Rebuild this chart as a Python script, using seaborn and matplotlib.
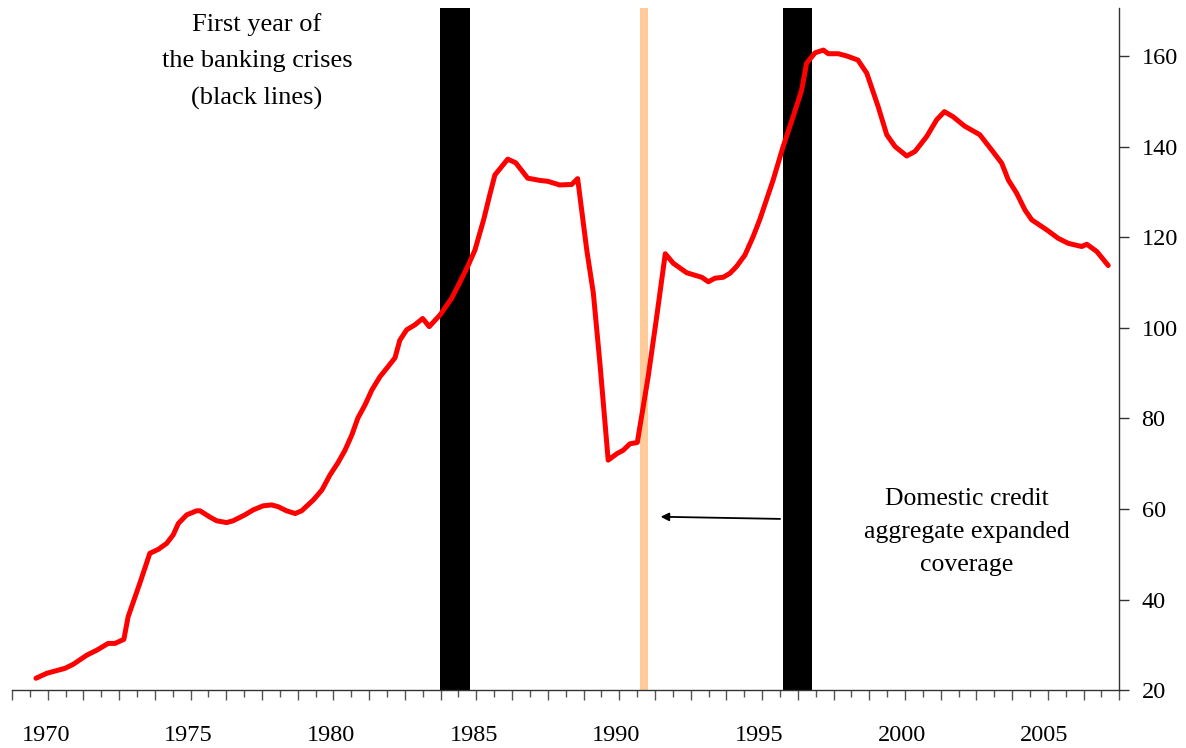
import numpy as np
import pandas as pd
import seaborn as sns
import matplotlib.pyplot as plt

# domestic credit aggregate (index), x in decimal years
year = [1969.66, 1970.04, 1970.68, 1970.97, 1971.44, 1971.79, 1972.19, 1972.43, 1972.74, 1972.89,
        1973.30, 1973.65, 1973.95, 1974.24, 1974.47, 1974.65, 1974.94, 1975.29, 1975.41, 1975.76,
        1975.99, 1976.34, 1976.57, 1976.98, 1977.27, 1977.62, 1977.92, 1978.15, 1978.44, 1978.74,
        1978.97, 1979.38, 1979.68, 1979.96, 1980.24, 1980.49, 1980.73, 1980.94, 1981.19, 1981.43,
        1981.71, 1981.99, 1982.24, 1982.41, 1982.65, 1982.94, 1983.21, 1983.44, 1983.82, 1984.23,
        1984.52, 1984.81, 1985.04, 1985.35, 1985.56, 1985.74, 1986.19, 1986.47, 1986.89, 1987.32,
        1987.60, 1988.01, 1988.43, 1988.64, 1988.96, 1989.19, 1989.42, 1989.56, 1989.71, 1990.01,
        1990.24, 1990.47, 1990.73, 1991.11, 1991.41, 1991.71, 1991.99, 1992.46, 1992.99, 1993.22,
        1993.45, 1993.74, 1993.98, 1994.21, 1994.50, 1994.79, 1995.03, 1995.49, 1995.84, 1996.19,
        1996.49, 1996.66, 1996.96, 1997.25, 1997.42, 1997.77, 1998.07, 1998.46, 1998.77, 1999.17,
        1999.47, 1999.76, 2000.17, 2000.46, 2000.87, 2001.22, 2001.49, 2001.79, 2002.20, 2002.73,
        2003.15, 2003.50, 2003.73, 2004.02, 2004.31, 2004.55, 2005.07, 2005.48, 2005.83, 2006.30,
        2006.48, 2006.83, 2007.23]
credit = [22.6, 23.7, 24.8, 25.7, 27.7, 28.8, 30.3, 30.3, 31.2, 36.2,
          43.6, 50.2, 51.1, 52.4, 54.3, 56.8, 58.7, 59.6, 59.6, 58.2,
          57.4, 57.0, 57.4, 58.7, 59.8, 60.7, 60.9, 60.5, 59.6, 59.0,
          59.6, 62.0, 64.2, 67.5, 70.2, 73.0, 76.4, 80.1, 83.0, 86.3,
          89.2, 91.4, 93.4, 97.3, 99.6, 100.7, 102.1, 100.3, 102.9, 106.6,
          110.2, 113.9, 117.2, 124.0, 129.4, 133.8, 137.3, 136.5, 133.1, 132.6,
          132.4, 131.6, 131.7, 133.0, 117.2, 107.7, 92.2, 81.9, 70.8, 72.2,
          73.0, 74.4, 74.7, 89.2, 102.5, 116.4, 114.3, 112.2, 111.2, 110.2,
          111.0, 111.2, 112.1, 113.6, 116.1, 120.2, 124.1, 132.7, 140.1, 146.7,
          152.6, 158.5, 160.8, 161.4, 160.6, 160.6, 160.1, 159.2, 156.3, 148.9,
          142.7, 140.1, 138.0, 139.0, 142.3, 146.0, 147.8, 146.7, 144.6, 142.7,
          139.3, 136.4, 132.7, 129.8, 126.1, 123.9, 121.7, 119.8, 118.7, 118.0,
          118.5, 116.9, 113.8]

# first year of the banking crises (black) and the coverage change (orange)
crisis_spans = [(1983.82, 1984.87), (1995.84, 1996.86)]
coverage_span = (1990.83, 1991.11)

label_years = [1970, 1975, 1980, 1985, 1990, 1995, 2000, 2005]
y_ticks = [20, 40, 60, 80, 100, 120, 140, 160]

df = pd.DataFrame({"year": year, "credit": credit})

sns.set_style("white")
plt.rcParams["font.family"] = ["Liberation Serif", "DejaVu Serif"]
plt.rcParams["text.color"] = "black"

fig = plt.figure(figsize=(11.86, 7.48), dpi=100)
ax = fig.add_axes([0.0101, 0.0775, 0.9337, 0.9118])

xmin, xmax = 1968.82, 2007.62
for a, b in crisis_spans:
    ax.axvspan(a, b, color="black", lw=0, zorder=1)
ax.axvspan(coverage_span[0], coverage_span[1], color="#FFCC99", lw=0, zorder=1)

sns.lineplot(data=df, x="year", y="credit", color="#FF0000", linewidth=3.6, ax=ax, zorder=3,
             solid_capstyle="round", solid_joinstyle="round")

ax.set_xlim(xmin, xmax)
ax.set_ylim(20, 170.7)
ax.set_xlabel("")
ax.set_ylabel("")

# y axis on the right
ax.yaxis.tick_right()
ax.set_yticks(y_ticks)
ax.tick_params(axis="y", direction="out", length=7, width=1, color="#333333",
               labelcolor="black", labelsize=17.5, pad=9, right=True, left=False)

# category style tick marks along the bottom, labels on a separate axis
ticks = np.linspace(xmin, xmax, 63)
ax.set_xticks(ticks[::2])
ax.set_xticks(ticks[1::2], minor=True)
ax.tick_params(axis="x", which="major", direction="out", length=7, width=1,
               color="#555555", labelbottom=False, bottom=True)
ax.tick_params(axis="x", which="minor", direction="out", length=5, width=1,
               color="#555555", bottom=True)

sec = ax.secondary_xaxis("bottom")
sec.set_xticks(label_years, labels=[str(y) for y in label_years])
sec.tick_params(length=0, pad=25, labelsize=17.5, labelcolor="black")
sec.spines["bottom"].set_visible(False)

for s in ["top", "left"]:
    ax.spines[s].set_visible(False)
for s in ["bottom", "right"]:
    ax.spines[s].set_color("#333333")
    ax.spines[s].set_linewidth(1)

ax.text(1977.40, 158.9, "First year of\nthe banking crises\n(black lines)",
        ha="center", va="center", fontsize=19, linespacing=1.82, color="black")
ax.text(2002.28, 54.9, "Domestic credit\naggregate expanded\ncoverage",
        ha="center", va="center", fontsize=18.5, linespacing=1.64, color="black")
ax.annotate("", xy=(1991.45, 58.3), xytext=(1995.83, 57.8),
            arrowprops=dict(arrowstyle="-|>", color="black", lw=1.3, mutation_scale=12))

plt.savefig("out.png", dpi=100)
